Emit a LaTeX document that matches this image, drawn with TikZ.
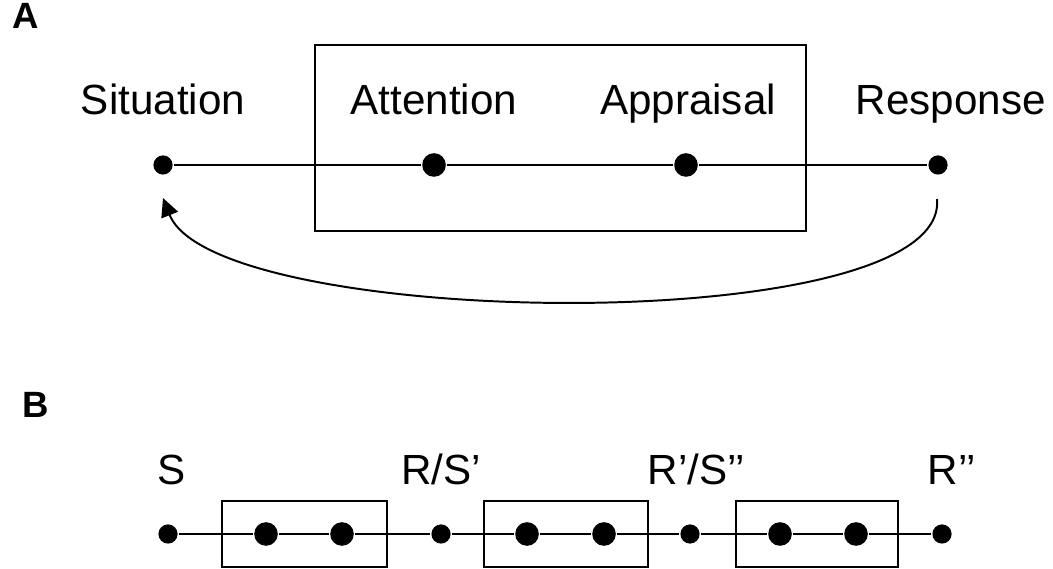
\documentclass[tikz,border=0pt]{standalone}
\usepackage{fontspec}
\setmainfont{Liberation Sans}
\usetikzlibrary{positioning,arrows.meta}

\begin{document}
\begin{tikzpicture}[x=0.025cm, y=-0.025cm, line width=1.4pt,
smalldot/.style={circle, fill=black, inner sep=0pt, minimum size=0.48cm},
bigdot/.style={circle, fill=black, inner sep=0pt, minimum size=0.59cm},
steplabel/.style={inner sep=0pt, text depth=0pt, font=\fontsize{30}{36}\selectfont},
panel/.style={inner sep=0pt, anchor=base west, font=\fontsize{26}{30}\selectfont\bfseries},
]
\useasboundingbox (0,0) rectangle (1053,569);

%Panel A
\node[panel] (A) at (12,29) {A};
\node[smalldot] (Sit)  at (163,165) {};
\node[bigdot]   (Att)  at (434,165) {};
\node[bigdot]   (App)  at (686,165) {};
\node[smalldot] (Resp) at (938,165) {};

\node[steplabel] (tSit)  [above=1.225cm of Sit.center]  {Situation};
\node[steplabel] (tAtt)  [above=1.225cm of Att.center]  {Attention};
\node[steplabel] (tApp)  [above=1.225cm of App.center, xshift=0.05cm]  {Appraisal};
\node[steplabel] (tResp) [above=1.225cm of Resp.center, xshift=0.32cm] {Response};

\draw (315,45) rectangle (806,231);
\draw (Sit) -- (Att) -- (App) -- (Resp);

\coordinate (loopstart) at (937,199);
\coordinate (loopend)   at (163,198);
\draw[-{Triangle[length=0.46cm, width=0.44cm]}] (loopstart) .. controls (950,340) and (215,330) .. (loopend);

%Panel B
\node[panel] (B) at (22,418) {B};
\node[smalldot] (S)   at (168,534) {};
\node[bigdot]   (b1)  at (266,534) {};
\node[bigdot]   (b2)  at (342,534) {};
\node[smalldot] (RS1) at (441,534) {};
\node[bigdot]   (b3)  at (527,534) {};
\node[bigdot]   (b4)  at (604,534) {};
\node[smalldot] (RS2) at (690,534) {};
\node[bigdot]   (b5)  at (780,534) {};
\node[bigdot]   (b6)  at (856,534) {};
\node[smalldot] (R2)  at (942,534) {};

\node[steplabel] (tS)   [above=1.225cm of S.center, xshift=0.1cm]     {S};
\node[steplabel] (tRS1) [above=1.225cm of RS1.center]                 {R/S’};
\node[steplabel] (tRS2) [above=1.225cm of RS2.center, xshift=0.16cm]  {R’/S’’};
\node[steplabel] (tR2)  [above=1.225cm of R2.center, xshift=0.25cm]   {R’’};

\draw (222,501) rectangle (387,567);
\draw (484,501) rectangle (648,567);
\draw (736,501) rectangle (898,567);
\draw (S) -- (b1) -- (b2) -- (RS1) -- (b3) -- (b4) -- (RS2) -- (b5) -- (b6) -- (R2);
\end{tikzpicture}
\end{document}
